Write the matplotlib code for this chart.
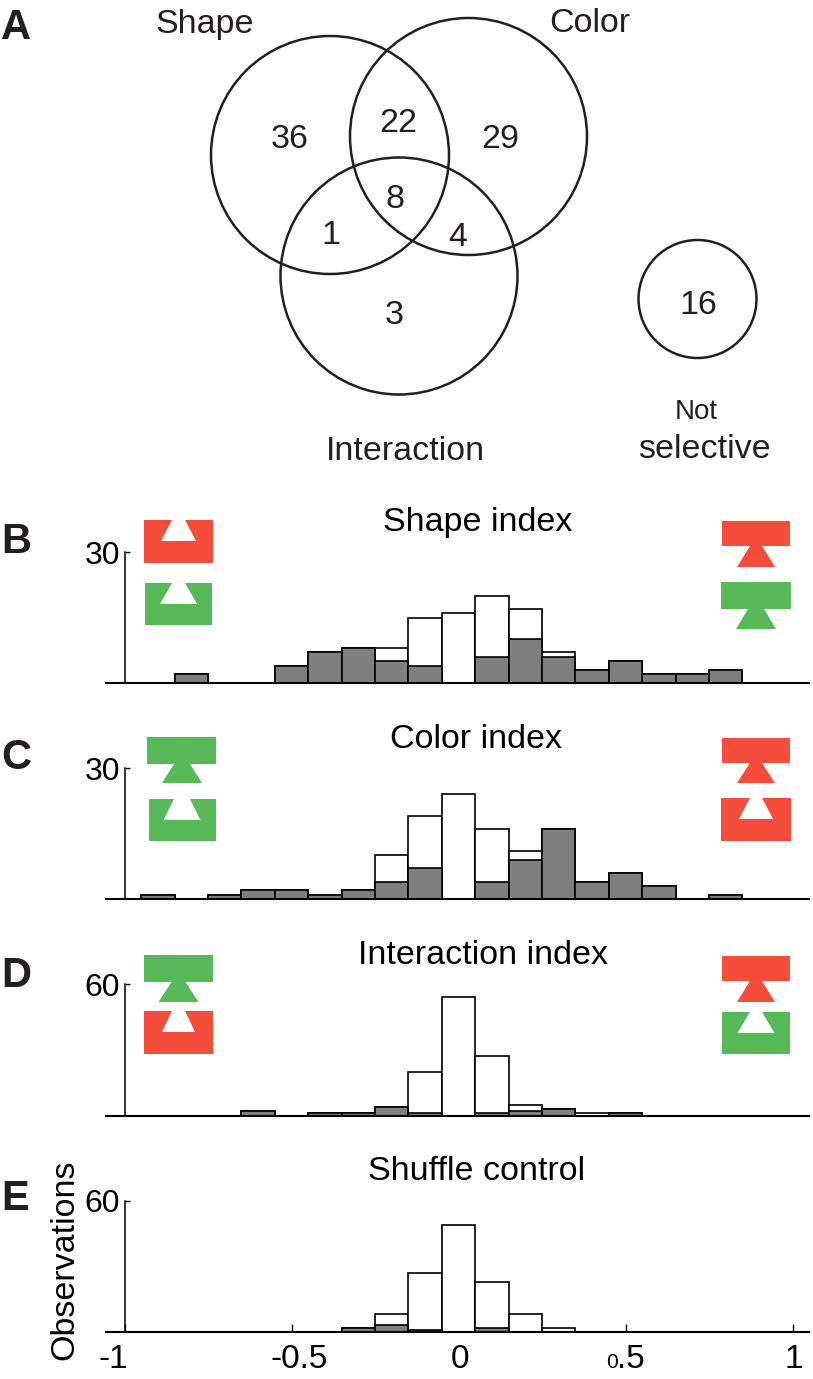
import numpy as np
import matplotlib
matplotlib.use('Agg')
import matplotlib.pyplot as plt
from matplotlib.patches import Circle, Polygon, Rectangle

plt.rcParams['font.family'] = ['Liberation Sans', 'DejaVu Sans']

W, H = 813, 1379
INK = '#231F20'
RED = '#F44D3C'
GREEN = '#57B957'
GREY = '#7F7F7F'

# histogram bins, centred on multiples of 0.1
bin_centers = np.arange(-9, 10) / 10

shape_total = [0, 2, 0, 0, 4, 7, 8, 8, 15, 16, 20, 17, 7, 3, 5, 2, 2, 3, 0]
shape_sel = [0, 2, 0, 0, 4, 7, 8, 5, 4, 0, 6, 10, 6, 3, 5, 2, 2, 3, 0]
color_total = [1, 0, 1, 2, 2, 1, 2, 10, 19, 24, 16, 11, 16, 4, 6, 3, 0, 1, 0]
color_sel = [1, 0, 1, 2, 2, 1, 2, 4, 7, 0, 4, 9, 16, 4, 6, 3, 0, 1, 0]
inter_total = [0, 0, 0, 2, 0, 1, 1, 4, 20, 54, 27, 5, 3, 1, 1, 0, 0, 0, 0]
inter_sel = [0, 0, 0, 2, 0, 1, 1, 4, 1, 0, 1, 2, 3, 0, 1, 0, 0, 0, 0]
shuffle_total = [0, 0, 0, 0, 0, 0, 2, 8, 27, 49, 23, 8, 2, 0, 0, 0, 0, 0, 0]
shuffle_sel = [0, 0, 0, 0, 0, 0, 2, 3, 1, 0, 2, 0, 0, 0, 0, 0, 0, 0, 0]

xtick_values = [-1, -0.5, 0, 0.5, 1]

# venn diagram: label, x, y
venn_counts = [('36', 290, 139), ('22', 398, 123), ('29', 500, 139), ('8', 395, 200),
               ('1', 331, 235), ('4', 458, 237), ('3', 394, 315), ('16', 698, 306)]
venn_circles = [(330, 155, 119), (468.5, 136.5, 118.5), (399, 276, 118.5), (697.5, 299, 59)]
venn_names = [('Shape', 205, 24, 24.5), ('Color', 590, 23, 24.5), ('Interaction', 405, 451, 24.5),
              ('Not', 696, 412, 20), ('selective', 704, 449, 24.5)]

# title, centre x, title y, baseline y, axis top y, y max, panel letter, letter y
panels = [('Shape index', 478, 522, 683, 552, 30, 'B', 542, shape_total, shape_sel),
          ('Color index', 476, 739, 899, 768, 30, 'C', 758, color_total, color_sel),
          ('Interaction index', 483, 955, 1115.5, 984, 60, 'D', 976, inter_total, inter_sel),
          ('Shuffle control', 477, 1171, 1332, 1200.5, 60, 'E', 1199, shuffle_total, shuffle_sel)]

# icons: colour, x0, x1, y0, y1, notch/foot half widths, centre x, trapezoid end y
icons_notch = [(RED, 144, 213, 520, 563, 6.5, 17.5, 178.5, 541),
               (GREEN, 145, 212, 583, 625, 6.5, 18.5, 178.5, 604),
               (GREEN, 148.5, 215.5, 799, 841, 8, 18.5, 182, 820),
               (RED, 721, 791, 798, 841, 6, 17, 756, 819),
               (RED, 144, 213, 1011, 1054, 6.5, 16.5, 178.5, 1032),
               (GREEN, 722, 790, 1012, 1054, 6, 18.5, 756, 1033)]
icons_foot = [(RED, 722, 790, 521, 546, 6, 19, 756, 567),
              (GREEN, 721, 791, 582, 609, 8, 20, 756, 629),
              (GREEN, 147, 216, 737, 764, 8, 20, 182, 783),
              (RED, 722, 790, 738, 763, 6, 19, 756, 783),
              (GREEN, 144, 213, 955, 982, 7, 20, 178.5, 1002),
              (RED, 722, 790, 956, 981, 6, 19, 756, 1002)]

fig = plt.figure(figsize=(W / 100, H / 100), dpi=100, facecolor='white')

# axis x range runs past -1 and 1, out to the ends of the baseline
x_per_px = 1 / 334
x_left = (106 - 458.5) * x_per_px
x_right = (809 - 458.5) * x_per_px

for title, tx, ty, base, top, ymax, letter, ly, total, sel in panels:
    ax = fig.add_axes([106 / W, 1 - base / H, 703 / W, (base - top) / H])
    ax.patch.set_visible(False)
    ax.set_xlim(x_left, x_right)
    ax.set_ylim(0, ymax)
    ax.set_axisbelow(True)

    total = np.array(total)
    sel = np.array(sel)
    ax.bar(bin_centers[total > 0], total[total > 0], width=0.1, color='white',
           edgecolor='black', linewidth=1.2, clip_on=False)
    ax.bar(bin_centers[sel > 0], sel[sel > 0], width=0.1, color=GREY,
           edgecolor='black', linewidth=1.2, clip_on=False)

    for side in ['top', 'right']:
        ax.spines[side].set_visible(False)
    ax.spines['left'].set_position(('data', -1))
    ax.spines['left'].set_linewidth(1.1)
    ax.spines['bottom'].set_linewidth(1.5)

    ax.set_yticks([ymax])
    ax.set_yticklabels([str(ymax)], fontsize=23, color='black')
    ax.tick_params(axis='y', direction='in', length=3.5, width=1, pad=3)
    if letter == 'E':
        ax.set_xticks(xtick_values)
        ax.set_xticklabels([])
        ax.tick_params(axis='x', direction='in', length=6, width=1)
    else:
        ax.set_xticks([])

# everything else is placed in pixel coordinates on top
over = fig.add_axes([0, 0, 1, 1], zorder=5)
over.set_xlim(0, W)
over.set_ylim(H, 0)
over.axis('off')

for cx, cy, r in venn_circles:
    over.add_patch(Circle((cx, cy), r, fill=False, edgecolor=INK, linewidth=1.8))
for label, x, y in venn_counts:
    over.text(x, y, label, fontsize=24.5, color=INK, ha='center', va='center')
for label, x, y, size in venn_names:
    over.text(x, y, label, fontsize=size, color=INK, ha='center', va='center')

for col, x0, x1, y0, y1, hw_top, hw_bot, xc, yt in icons_notch:
    over.add_patch(Rectangle((x0, y0), x1 - x0, y1 - y0, color=col, linewidth=0))
    over.add_patch(Polygon([(xc - hw_top, y0), (xc + hw_top, y0), (xc + hw_bot, yt), (xc - hw_bot, yt)],
                           color='white', linewidth=0))
for col, x0, x1, y0, y1, hw_top, hw_bot, xc, yt in icons_foot:
    over.add_patch(Rectangle((x0, y0), x1 - x0, y1 - y0, color=col, linewidth=0))
    over.add_patch(Polygon([(xc - hw_top, y1), (xc + hw_top, y1), (xc + hw_bot, yt), (xc - hw_bot, yt)],
                           color=col, linewidth=0))

for title, tx, ty, base, top, ymax, letter, ly, total, sel in panels:
    over.text(tx, ty, title, fontsize=24.5, color='black', ha='center', va='center')
    over.text(1, ly, letter, fontsize=30, fontweight='bold', color=INK, ha='left', va='center')
over.text(1, 28, 'A', fontsize=30, fontweight='bold', color=INK, ha='left', va='center')

over.text(65, 1260, 'Observations', fontsize=24.5, color='black', rotation=90, ha='center', va='center')

# x tick labels sit off their ticks in the original, and the 0 of 0.5 is small
over.text(113, 1368, '-1', fontsize=24, color='black', ha='center', va='baseline')
over.text(299, 1368, '-0.5', fontsize=24, color='black', ha='center', va='baseline')
over.text(460, 1368, '0', fontsize=24, color='black', ha='center', va='baseline')
over.text(618, 1368, '0', fontsize=15, color='black', ha='right', va='baseline')
over.text(617, 1368, '.5', fontsize=24, color='black', ha='left', va='baseline')
over.text(794, 1368, '1', fontsize=24, color='black', ha='center', va='baseline')

fig.savefig('out.png', dpi=100, facecolor='white')
